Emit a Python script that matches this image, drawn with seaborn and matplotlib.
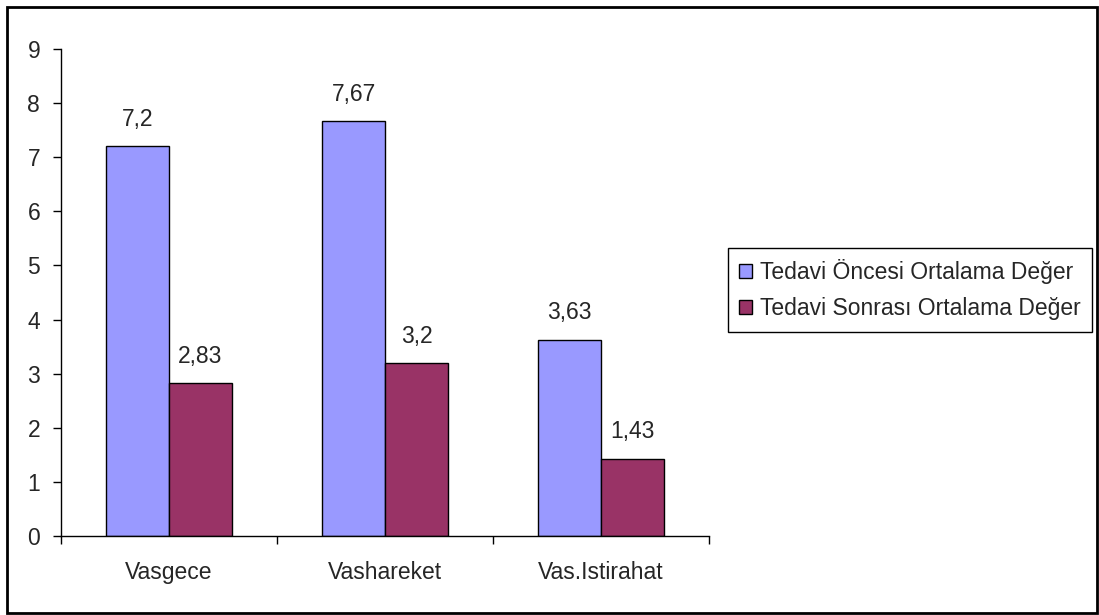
import matplotlib
matplotlib.use("Agg")
import matplotlib.pyplot as plt
from matplotlib.patches import Rectangle
from matplotlib.ticker import FixedLocator, NullFormatter
import pandas as pd
import seaborn as sns

categories = ["Vasgece", "Vashareket", "Vas.Istirahat"]
series_names = ["Tedavi Öncesi Ortalama Değer", "Tedavi Sonrası Ortalama Değer"]
before_values = [7.2, 7.67, 3.63]
after_values = [2.83, 3.2, 1.43]
y_ticks = [0, 1, 2, 3, 4, 5, 6, 7, 8, 9]

df = pd.DataFrame({
    "kategori": categories * 2,
    "seri": [series_names[0]] * len(categories) + [series_names[1]] * len(categories),
    "deger": before_values + after_values,
})

sns.set_style("white")
plt.rcParams["font.family"] = ["Liberation Sans", "DejaVu Sans"]

FS = 16.5

fig = plt.figure(figsize=(10.99, 6.15), dpi=100)
ax = fig.add_axes([0.0555, 0.1285, 0.5897, 0.7918])

sns.barplot(
    data=df, x="kategori", y="deger", hue="seri",
    order=categories, hue_order=series_names,
    palette=["#9999FF", "#993366"],
    width=0.5834, edgecolor="black", linewidth=1.0,
    saturation=1, errorbar=None, ax=ax,
)

ax.set_xlim(-0.5, len(categories) - 0.5)
ax.set_ylim(0, 9)
ax.set_yticks(y_ticks)
ax.set_yticklabels([str(t) for t in y_ticks])
ax.set_xlabel("")
ax.set_ylabel("")

for spine in ["top", "right"]:
    ax.spines[spine].set_visible(False)
for spine in ["left", "bottom"]:
    ax.spines[spine].set_color("black")
    ax.spines[spine].set_linewidth(1.0)

ax.tick_params(axis="y", direction="out", length=6, width=1, color="black",
               pad=9, labelsize=FS, left=True)
ax.tick_params(axis="x", which="major", length=0, pad=18, labelsize=FS)
ax.xaxis.set_minor_locator(FixedLocator([i - 0.5 for i in range(len(categories) + 1)]))
ax.xaxis.set_minor_formatter(NullFormatter())
ax.tick_params(axis="x", which="minor", direction="out", length=6, width=1,
               color="black", bottom=True)

# value labels with decimal comma
for container in ax.containers:
    labels = [f"{bar.get_height():g}".replace(".", ",") for bar in container]
    ax.bar_label(container, labels=labels, padding=11, fontsize=FS)

handles, labels = ax.get_legend_handles_labels()
ax.legend_.remove()
leg = fig.legend(
    handles, labels, loc="upper left",
    bbox_to_anchor=(0.6624, 0.5967), bbox_transform=fig.transFigure,
    fontsize=FS, frameon=True, fancybox=False, framealpha=1,
    edgecolor="black", handlelength=0.55, handleheight=0.55,
    handletextpad=0.35, borderpad=0.5, labelspacing=0.55, borderaxespad=0,
)
leg.get_frame().set_linewidth(1.0)

# outer chart border
fig.patches.append(Rectangle((0.0064, 0.0035), 0.9915, 0.9855,
                             transform=fig.transFigure, fill=False,
                             edgecolor="black", linewidth=2.0))

fig.savefig("out.png", dpi=100)
